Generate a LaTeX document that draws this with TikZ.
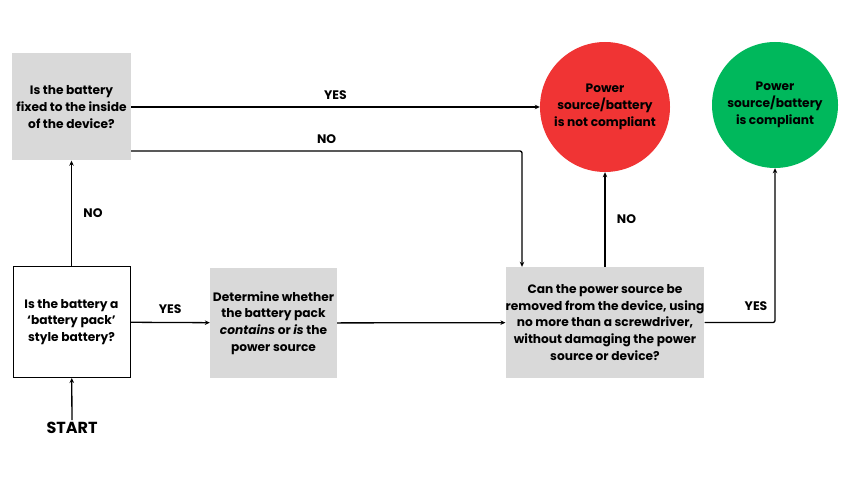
\documentclass[tikz,border=0pt]{standalone}
\usepackage{fontspec}
\setmainfont{Poppins}
\usetikzlibrary{arrows.meta,positioning}

\definecolor{boxgray}{RGB}{217,217,217}
\definecolor{notok}{RGB}{240,52,52}
\definecolor{isok}{RGB}{0,184,92}

\tikzset{
  txt/.style={align=center, inner sep=0pt, font=\fontsize{12.2}{16.8}\selectfont\bfseries},
  qbox/.style={txt, fill=boxgray, minimum width=119pt, minimum height=107pt},
  endcirc/.style={txt, circle, minimum size=130pt},
  lbl/.style={font=\fontsize{12.4}{14}\selectfont\bfseries},
  arr/.style={-{Stealth[length=5pt,width=4.5pt]}, line width=1.3pt},
}

\begin{document}
\begin{tikzpicture}[x=1pt, y=-1pt]
    \useasboundingbox (0,0) rectangle (850,478);
        \node[qbox] (fixed) at (71.5,107) {Is the battery\\fixed to the inside\\of the device?};
        \node[txt, draw, line width=0.9pt, minimum width=117pt, minimum height=111pt] (pack) at (71.5,322) {Is the battery a\\`battery pack'\\style battery?};
        \node[qbox, minimum width=127pt, minimum height=110pt] (contains) at (273.5,323) {Determine whether\\the battery pack\\\textit{contains} or \textit{is} the\\power source};
        \node[qbox, minimum width=198pt, minimum height=111pt] (remove) at (605,322.5) {Can the power source be\\removed from the device, using\\no more than a screwdriver,\\without damaging the power\\source or device?};
        \node[endcirc, fill=notok] (bad) at (605,107) {Power\\source/battery\\is not compliant};
        \node[endcirc, fill=isok, minimum size=126pt] (good) at (775,105) {Power\\source/battery\\is compliant};
        \node[font=\fontsize{16}{18}\selectfont\bfseries, inner sep=2pt] (start) at (72,428) {START};

        \draw[arr] (start) -- (pack);
        \draw[arr] (pack) -- node[lbl, right=8pt] {NO} (fixed);
        \draw[arr] (pack) -- node[lbl, above=5pt] {YES} (contains);
        \draw[arr] (contains) -- (remove);
        \draw[arr] (fixed) -- node[lbl, above=3pt] {YES} (bad);
        \draw[arr, rounded corners=2pt] ([yshift=-44pt]fixed.east) -| node[lbl, pos=0.25, above=3pt] {NO} ([xshift=-83pt]remove.north);
        \draw[arr] (remove) -- node[lbl, right=8pt] {NO} (bad);
        \draw[arr, rounded corners=2pt] (remove.east) -| node[lbl, pos=0.5, anchor=south east, inner sep=0pt, xshift=-7pt, yshift=11pt] {YES} (good.south);
\end{tikzpicture}
\end{document}
